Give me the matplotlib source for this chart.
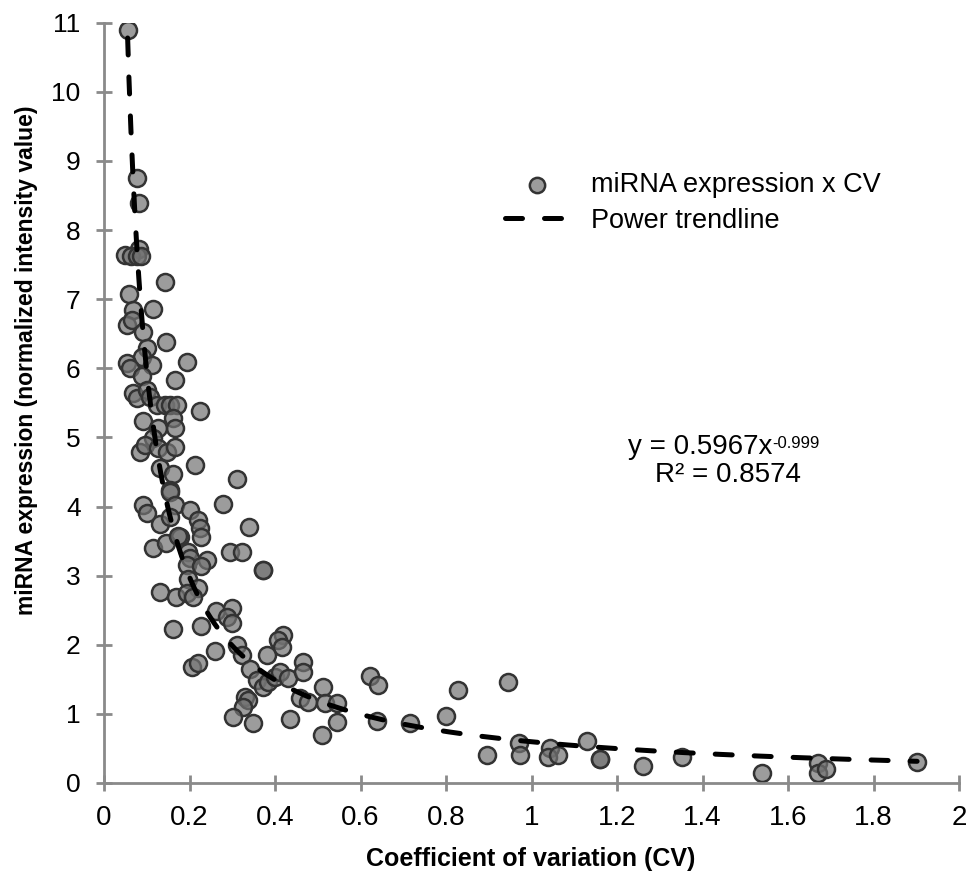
import numpy as np
import matplotlib.pyplot as plt

plt.rcParams['font.family'] = ['Liberation Sans', 'DejaVu Sans']

# CV values and expression values
cv = [0.056, 0.077, 0.082, 0.082, 0.049, 0.063, 0.077, 0.087,
      0.143, 0.058, 0.115, 0.068, 0.054, 0.066, 0.091, 0.145, 0.100, 0.089,
      0.194, 0.054, 0.061, 0.112, 0.089, 0.166, 0.068, 0.077, 0.100, 0.108,
      0.124, 0.143, 0.154, 0.171, 0.225, 0.091, 0.161, 0.166, 0.126, 0.115,
      0.084, 0.096, 0.126, 0.147, 0.166, 0.131, 0.161, 0.213, 0.311, 0.154,
      0.154, 0.091, 0.101, 0.279, 0.166, 0.131, 0.154, 0.201, 0.220, 0.225,
      0.178, 0.340, 0.227, 0.115, 0.145, 0.173, 0.197, 0.201, 0.194, 0.241,
      0.227, 0.295, 0.323, 0.372, 0.372, 0.196, 0.220, 0.131, 0.168, 0.194,
      0.208, 0.262, 0.299, 0.288, 0.299, 0.161, 0.227, 0.260, 0.311, 0.419,
      0.407, 0.416, 0.206, 0.220, 0.323, 0.381, 0.342, 0.358, 0.372, 0.384,
      0.400, 0.412, 0.431, 0.466, 0.466, 0.512, 0.458, 0.477, 0.517, 0.545,
      0.545, 0.330, 0.337, 0.325, 0.302, 0.349, 0.435, 0.510, 0.622, 0.641,
      0.639, 0.716, 0.800, 0.828, 0.945, 0.896, 0.971, 0.973, 1.043, 1.039,
      1.062, 1.130, 1.160, 1.160, 1.261, 1.352, 1.539, 1.670, 1.670, 1.690,
      1.902]
expr = [10.90, 8.75, 8.39, 7.73, 7.64, 7.63, 7.63, 7.63,
        7.25, 7.07, 6.86, 6.85, 6.63, 6.70, 6.53, 6.38, 6.30, 6.17,
        6.09, 6.08, 6.00, 6.05, 5.89, 5.83, 5.64, 5.57, 5.69, 5.59,
        5.47, 5.47, 5.47, 5.47, 5.38, 5.24, 5.28, 5.14, 5.14, 4.99,
        4.79, 4.89, 4.85, 4.79, 4.86, 4.56, 4.47, 4.60, 4.40, 4.24,
        4.21, 4.02, 3.90, 4.04, 4.02, 3.75, 3.85, 3.95, 3.80, 3.69,
        3.56, 3.70, 3.56, 3.40, 3.47, 3.57, 3.34, 3.26, 3.15, 3.23,
        3.14, 3.34, 3.34, 3.08, 3.08, 2.95, 2.82, 2.76, 2.69, 2.75,
        2.69, 2.49, 2.53, 2.40, 2.32, 2.23, 2.27, 1.91, 2.00, 2.14,
        2.07, 1.97, 1.68, 1.74, 1.85, 1.85, 1.65, 1.49, 1.39, 1.46,
        1.53, 1.60, 1.52, 1.75, 1.60, 1.39, 1.23, 1.17, 1.16, 1.16,
        0.88, 1.24, 1.20, 1.10, 0.95, 0.87, 0.93, 0.69, 1.55, 1.42,
        0.90, 0.87, 0.97, 1.35, 1.46, 0.41, 0.58, 0.41, 0.51, 0.38,
        0.41, 0.61, 0.35, 0.35, 0.25, 0.37, 0.15, 0.29, 0.14, 0.20,
        0.31]

# Excel power trendline
a_fit = 0.5967
b_fit = -0.999

fig, ax = plt.subplots(figsize=(9.69, 8.73), dpi=100)
fig.subplots_adjust(left=104/969, right=959/969, bottom=1-783/873, top=1-22.7/873)

ax.scatter(cv, expr, s=150, facecolor=(0.45, 0.45, 0.45, 0.7),
           edgecolor='#333333', linewidth=1.8, zorder=2,
           label='miRNA expression x CV')

xs = np.linspace(min(cv), max(cv), 400)
ax.plot(xs, a_fit * xs ** b_fit, color='black', linewidth=3.6,
        dashes=(3.4, 4.4), dash_capstyle='round', zorder=3,
        label='Power trendline')

ax.set_xlim(0, 2)
ax.set_ylim(0, 11)
ax.set_xticks(np.arange(0, 2.01, 0.2))
ax.set_xticklabels(['0', '0.2', '0.4', '0.6', '0.8', '1', '1.2', '1.4', '1.6', '1.8', '2'])
ax.set_yticks(range(0, 12))

for side in ['top', 'right']:
    ax.spines[side].set_visible(False)
for side in ['left', 'bottom']:
    ax.spines[side].set_color('#8a8a8a')
    ax.spines[side].set_linewidth(2)
ax.tick_params(direction='inout', length=11.5, width=2, color='#8a8a8a')
ax.tick_params(axis='x', labelsize=20, pad=10)
ax.tick_params(axis='y', labelsize=19, pad=11)

ax.set_xlabel('Coefficient of variation (CV)', fontsize=18, fontweight='bold')
ax.xaxis.set_label_coords(0.499, -0.084)
ax.set_ylabel('miRNA expression (normalized intensity value)', fontsize=16.5,
              fontweight='bold')
ax.yaxis.set_label_coords(-0.077, 0.556)

ax.legend(loc='center left', bbox_to_anchor=(0.456, 0.763), frameon=False,
          fontsize=19.5, handlelength=2.4, handletextpad=0.8, markerscale=0.9,
          labelspacing=0.35, borderaxespad=0)

eq = ax.text(0.6129, 0.4419, 'y = 0.5967x', transform=ax.transAxes,
             ha='left', va='center', fontsize=20)
ax.annotate('-0.999', xy=(1.0, 0.92), xycoords=eq, ha='left', va='top', fontsize=12)
ax.text(0.7298, 0.4051, 'R² = 0.8574', transform=ax.transAxes,
        ha='center', va='center', fontsize=20)

fig.savefig('out.png', dpi=100)
